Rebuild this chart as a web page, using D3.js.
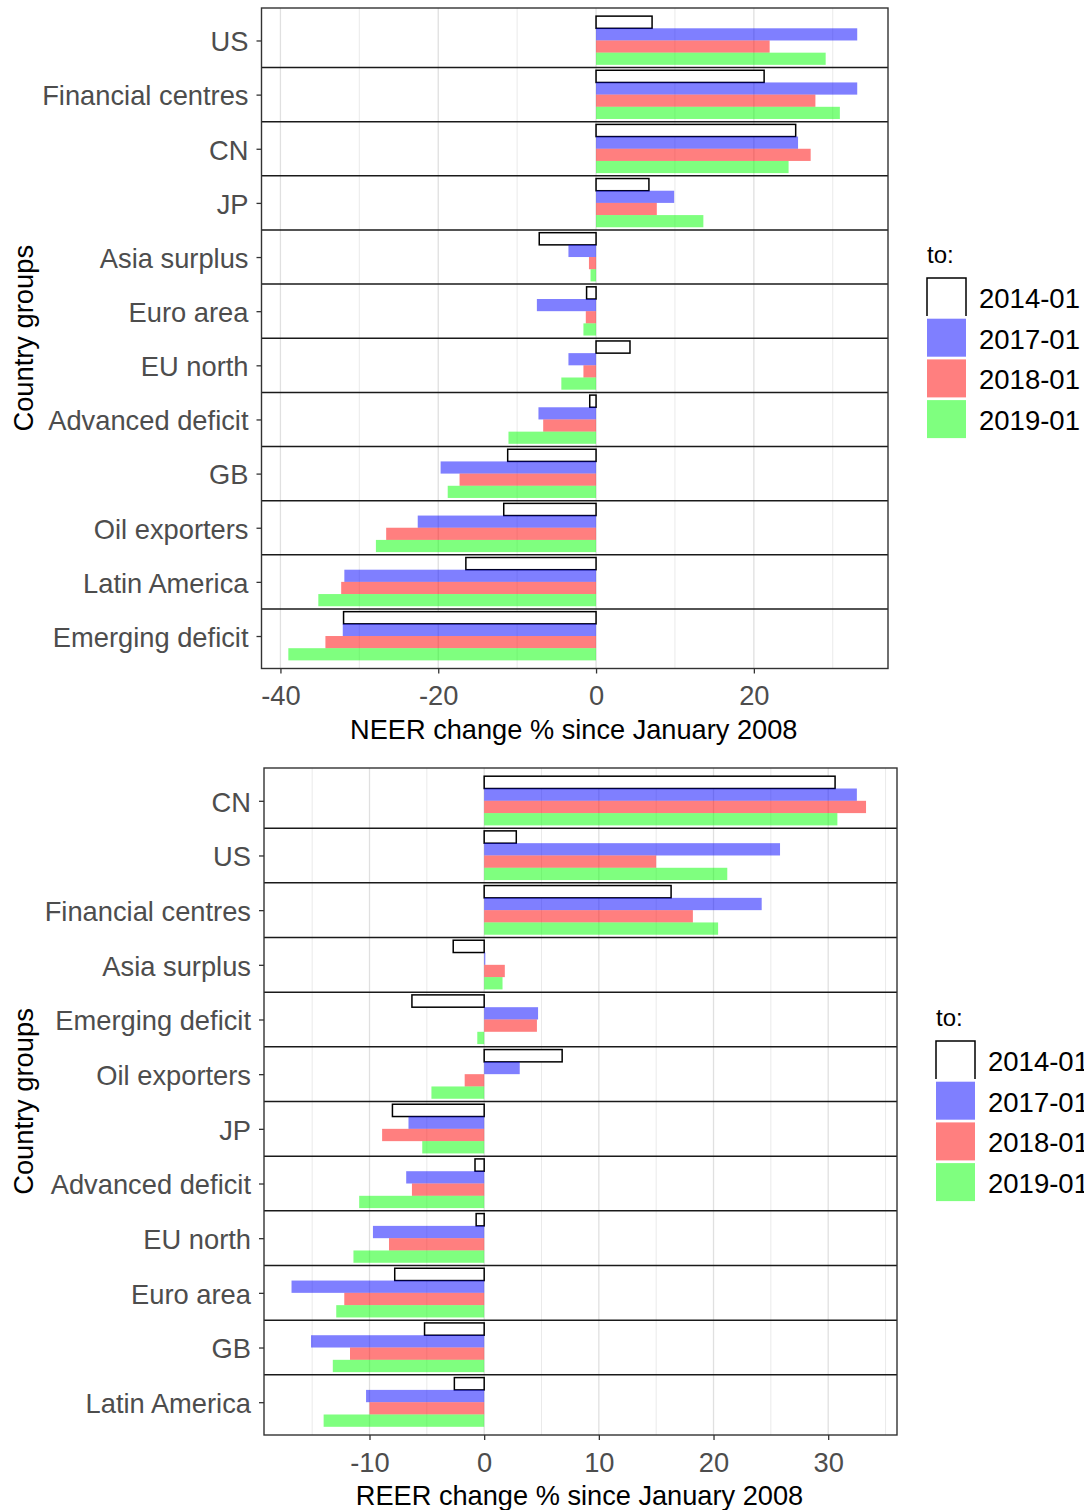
<!DOCTYPE html>
<html>
<head>
<meta charset="utf-8">
<script src="https://cdn.jsdelivr.net/npm/d3@7"></script>
<style>
  body { margin: 0; background: #fff; }
  text { font-family: "Liberation Sans", Arial, sans-serif; }
</style>
</head>
<body>
<svg id="chart"></svg>
<script>
// legend periods and colours
var periods = ["2014-01", "2017-01", "2018-01", "2019-01"];
var colors = ["#FFFFFF", "#0000FF", "#FF0000", "#00FF00"];

// NEER (top chart), groups listed top to bottom
var neerGroups = ["US", "Financial centres", "CN", "JP", "Asia surplus", "Euro area",
  "EU north", "Advanced deficit", "GB", "Oil exporters", "Latin America", "Emerging deficit"];
var neer2014 = [7.1, 21.3, 25.3, 6.7, -7.2, -1.2, 4.3, -0.8, -11.2, -11.7, -16.5, -32.0];
var neer2017 = [33.1, 33.1, 25.6, 9.9, -3.5, -7.5, -3.5, -7.3, -19.7, -22.6, -31.9, -32.1];
var neer2018 = [22.0, 27.8, 27.2, 7.7, -0.9, -1.3, -1.6, -6.7, -17.3, -26.6, -32.3, -34.3];
var neer2019 = [29.1, 30.9, 24.4, 13.6, -0.7, -1.6, -4.4, -11.1, -18.8, -27.9, -35.2, -39.0];
var neerTicks = [-40, -20, 0, 20];
var neerMinor = [-30, -10, 10, 30];

// REER (bottom chart)
var reerGroups = ["CN", "US", "Financial centres", "Asia surplus", "Emerging deficit", "Oil exporters",
  "JP", "Advanced deficit", "EU north", "Euro area", "GB", "Latin America"];
var reer2014 = [30.6, 2.8, 16.3, -2.7, -6.3, 6.8, -8.0, -0.8, -0.7, -7.8, -5.2, -2.6];
var reer2017 = [32.5, 25.8, 24.2, 0.1, 4.7, 3.1, -6.6, -6.8, -9.7, -16.8, -15.1, -10.3];
var reer2018 = [33.3, 15.0, 18.2, 1.8, 4.6, -1.7, -8.9, -6.3, -8.3, -12.2, -11.7, -10.0];
var reer2019 = [30.8, 21.2, 20.4, 1.6, -0.6, -4.6, -5.4, -10.9, -11.4, -12.9, -13.2, -14.0];
var reerTicks = [-10, 0, 10, 20, 30];
var reerMinor = [-15, -5, 5, 15, 25, 35];

var svg = d3.select("#chart")
  .attr("width", 1084)
  .attr("height", 1510);

function drawPanel(opt) {
  var n = opt.groups.length;
  var series = opt.series;

  var x = d3.scaleLinear().domain(opt.xDomain).range([opt.left, opt.right]);
  // discrete-like y: group i sits at value n - i, expanded by 0.6 each side
  var y = d3.scaleLinear().domain([0.4, n + 0.6]).range([opt.bottom, opt.top]);

  var g = svg.append("g");

  // grid
  g.selectAll(".minor").data(opt.minor).enter().append("line")
    .attr("x1", d => x(d)).attr("x2", d => x(d))
    .attr("y1", opt.top).attr("y2", opt.bottom)
    .attr("stroke", "#e8e8e8").attr("stroke-width", 0.9);
  g.selectAll(".major").data(opt.ticks).enter().append("line")
    .attr("x1", d => x(d)).attr("x2", d => x(d))
    .attr("y1", opt.top).attr("y2", opt.bottom)
    .attr("stroke", "#e0e0e0").attr("stroke-width", 1.3);

  // bars
  var rows = [];
  series.forEach(function(vals, j) {
    vals.forEach(function(v, i) {
      rows.push({ i: i, j: j, v: v });
    });
  });
  var bw = 0.9 / periods.length;
  g.selectAll(".bar").data(rows).enter().append("rect")
    .attr("x", d => x(Math.min(0, d.v)))
    .attr("width", d => Math.abs(x(d.v) - x(0)))
    .attr("y", d => y(n - d.i + 0.45 - d.j * bw))
    .attr("height", d => y(0) - y(bw))
    .attr("fill", d => colors[d.j])
    .attr("fill-opacity", d => d.j === 0 ? 1 : 0.5)
    .attr("stroke", d => d.j === 0 ? "#000" : "none")
    .attr("stroke-width", 1.5);

  // separators between groups
  g.selectAll(".sep").data(d3.range(1, n)).enter().append("line")
    .attr("x1", opt.left).attr("x2", opt.right)
    .attr("y1", d => y(d + 0.5)).attr("y2", d => y(d + 0.5))
    .attr("stroke", "#1a1a1a").attr("stroke-width", 1.5);

  // panel border
  g.append("rect")
    .attr("x", opt.left).attr("y", opt.top)
    .attr("width", opt.right - opt.left).attr("height", opt.bottom - opt.top)
    .attr("fill", "none").attr("stroke", "#333").attr("stroke-width", 1.4);

  // axes
  var xAxis = g.append("g")
    .attr("transform", "translate(0," + opt.bottom + ")")
    .call(d3.axisBottom(x).tickValues(opt.ticks).tickSize(5).tickPadding(12)
      .tickFormat(d => String(d)));
  var yAxis = g.append("g")
    .attr("transform", "translate(" + opt.left + ",0)")
    .call(d3.axisLeft(y).tickValues(d3.range(1, n + 1)).tickSize(5).tickPadding(8)
      .tickFormat(v => opt.groups[n - v]));

  [xAxis, yAxis].forEach(function(a) {
    a.select(".domain").remove();
    a.selectAll(".tick line").attr("stroke", "#333").attr("stroke-width", 1.3);
    a.selectAll(".tick text").attr("fill", "#4d4d4d").style("font-size", "27.3px");
  });
  yAxis.selectAll(".tick text").attr("dy", "0.38em");
  xAxis.selectAll(".tick text").attr("dy", "0.72em");

  // titles
  g.append("text")
    .attr("x", (opt.left + opt.right) / 2 - 1).attr("y", opt.bottom + 70)
    .attr("text-anchor", "middle").style("font-size", "27.2px").attr("fill", "#000")
    .text(opt.xTitle);
  g.append("text")
    .attr("transform", "translate(33," + ((opt.top + opt.bottom) / 2) + ") rotate(-90)")
    .attr("text-anchor", "middle").style("font-size", "27.3px").attr("fill", "#000")
    .text("Country groups");

  // legend
  var lx = opt.right + 39, ly = opt.legendTop;
  var leg = g.append("g");
  leg.append("text").attr("x", lx).attr("y", ly - 15)
    .style("font-size", "24px").attr("fill", "#000").text("to:");
  var kw = 39, kh = 38, step = 40.7;
  periods.forEach(function(p, j) {
    var ky = ly + j * step;
    if (j === 0) {
      leg.append("path")
        .attr("d", "M" + lx + "," + (ky + kh) + "V" + ky + "H" + (lx + kw) + "V" + (ky + kh))
        .attr("fill", "none").attr("stroke", "#000").attr("stroke-width", 1.5);
    } else {
      leg.append("rect").attr("x", lx).attr("y", ky).attr("width", kw).attr("height", kh)
        .attr("fill", colors[j]).attr("fill-opacity", 0.5);
    }
    leg.append("text").attr("x", lx + 52).attr("y", ky + kh / 2 + 11)
      .style("font-size", "27.5px").attr("fill", "#000").text(p);
  });
}

drawPanel({
  groups: neerGroups,
  series: [neer2014, neer2017, neer2018, neer2019],
  xDomain: [-42.4, 37.0],
  ticks: neerTicks, minor: neerMinor,
  left: 261.5, right: 888, top: 8, bottom: 668.5,
  legendTop: 278,
  xTitle: "NEER change % since January 2008"
});

drawPanel({
  groups: reerGroups,
  series: [reer2014, reer2017, reer2018, reer2019],
  xDomain: [-19.2, 36.0],
  ticks: reerTicks, minor: reerMinor,
  left: 264, right: 897, top: 768, bottom: 1435,
  legendTop: 1041,
  xTitle: "REER change % since January 2008"
});
</script>
</body>
</html>
